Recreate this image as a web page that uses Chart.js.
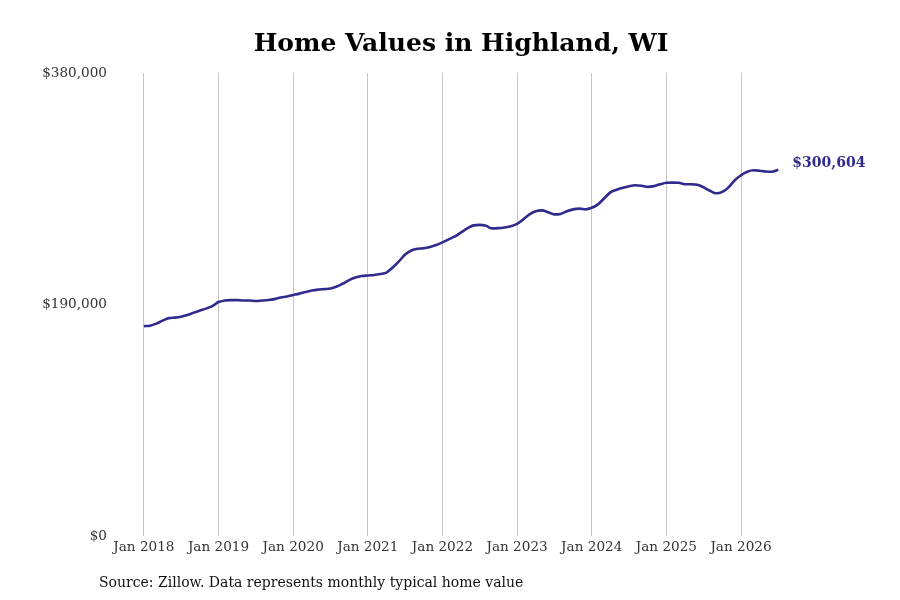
<!DOCTYPE html>
<html>
<head>
<meta charset="utf-8">
<script src="https://cdn.jsdelivr.net/npm/chart.js@4/dist/chart.umd.min.js"></script>
<style>
  html, body { margin: 0; padding: 0; background: #fff; }
  #wrap { position: relative; width: 900px; height: 600px; }
  #source { position: absolute; left: 99px; top: 574px; font: 14px 'DejaVu Serif', serif; color: #111; white-space: nowrap; }
</style>
</head>
<body>
<div id="wrap">
  <canvas id="c" width="900" height="600"></canvas>
  <div id="source">Source: Zillow. Data represents monthly typical home value</div>
</div>
<script>
// Monthly typical home values, Jan 2018 .. Jul 2026
const startYear = 2018;
const values = [
  172300, 172700, 174400, 176800, 178900, 179300, 180100, 181400, 183400, 185100, 186700, 188800,
  192100, 193300, 193700, 193700, 193300, 193300, 193000, 193300, 193700, 194500, 195800, 196600,
  197800, 199000, 200300, 201500, 202300, 202700, 203200, 204800, 207300, 210100, 212200, 213400,
  213900, 214300, 215100, 216300, 220400, 225400, 231100, 234400, 235800, 236200, 237300, 238900,
  241000, 243500, 245900, 249200, 252500, 255000, 255400, 254600, 252500, 252700, 253300, 254200,
  256200, 259900, 264000, 266500, 267300, 265700, 264000, 264400, 266500, 268100, 268700, 268100,
  269400, 272200, 277200, 282100, 284200, 285800, 287100, 287900, 287500, 286600, 287200, 288700,
  289900, 290100, 289900, 288700, 288700, 288300, 286200, 283400, 281300, 282500, 286200, 292000,
  296100, 299000, 300200, 299800, 299200, 299000, 300604
];
const tickLabels = ['Jan 2018','Jan 2019','Jan 2020','Jan 2021','Jan 2022','Jan 2023','Jan 2024','Jan 2025','Jan 2026'];
const yTickValues = [0, 190000, 380000];
const yTickLabels = ['$0', '$190,000', '$380,000'];
const endLabel = '$300,604';

const lineColor = '#2f2a8c';
const points = values.map((v, i) => ({ x: i, y: v }));
const xTickValues = tickLabels.map((_, i) => i * 12);

const endLabelPlugin = {
  id: 'endLabel',
  afterDatasetsDraw(chart) {
    const meta = chart.getDatasetMeta(0);
    const last = meta.data[meta.data.length - 1];
    const ctx = chart.ctx;
    ctx.save();
    ctx.font = "bold 14px 'DejaVu Serif', serif";
    ctx.fillStyle = lineColor;
    ctx.textAlign = 'left';
    ctx.textBaseline = 'middle';
    ctx.fillText(endLabel, last.x + 14, last.y - 6);
    ctx.restore();
  }
};

new Chart(document.getElementById('c'), {
  type: 'line',
  data: {
    datasets: [{
      data: points,
      borderColor: lineColor,
      borderWidth: 2.6,
      pointRadius: 0,
      tension: 0.4,
      cubicInterpolationMode: 'monotone',
      fill: false
    }]
  },
  options: {
    responsive: false,
    animation: false,
    layout: { padding: { left: 22, right: 0, top: 0, bottom: 41.5 } },
    plugins: {
      legend: { display: false },
      tooltip: { enabled: false },
      title: {
        display: true,
        text: 'Home Values in Highland, WI',
        color: '#000',
        font: { family: "'DejaVu Serif', serif", size: 25, weight: 'bold' },
        padding: { top: 29, bottom: 14 }
      }
    },
    scales: {
      x: {
        type: 'linear',
        min: -4,
        max: 121.56,
        afterBuildTicks: (s) => { s.ticks = xTickValues.map(v => ({ value: v })); },
        ticks: {
          callback: (v) => tickLabels[xTickValues.indexOf(v)] || '',
          color: '#333',
          font: { family: "'DejaVu Serif', serif", size: 13.6 },
          padding: 3,
          maxRotation: 0,
          autoSkip: false
        },
        grid: { display: true, color: '#c4c4c4', lineWidth: 1, drawTicks: false },
        border: { display: false }
      },
      y: {
        min: 0,
        max: 380000,
        afterFit: (s) => { s.width = 97; },
        afterBuildTicks: (s) => { s.ticks = yTickValues.map(v => ({ value: v })); },
        ticks: {
          callback: (v) => yTickLabels[yTickValues.indexOf(v)] || '',
          color: '#333',
          font: { family: "'DejaVu Serif', serif", size: 13.6 },
          padding: 12
        },
        grid: { display: false, drawTicks: false },
        border: { display: false }
      }
    }
  },
  plugins: [endLabelPlugin]
});
</script>
</body>
</html>
